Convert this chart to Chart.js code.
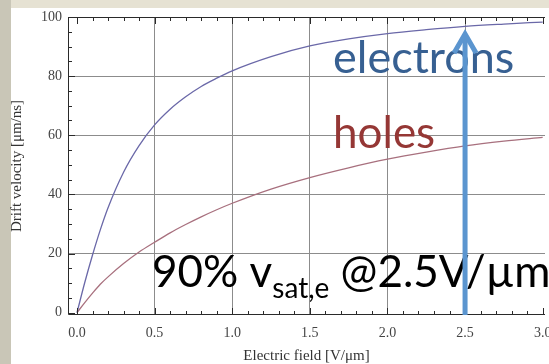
<!DOCTYPE html>
<html>
<head>
<meta charset="utf-8">
<script src="https://cdn.jsdelivr.net/npm/chart.js@4"></script>
<style>
  html, body { margin: 0; padding: 0; width: 549px; height: 364px; overflow: hidden; background: #ffffff; }
  #bandTop { position: absolute; left: 0; top: 0; width: 549px; height: 8px; background: #e6e2d3; }
  #bandLeft { position: absolute; left: 0; top: 0; width: 11px; height: 364px; background: #c9c6b7; }
  #grafico { position: absolute; left: 0; top: 0; }
</style>
</head>
<body>
<div id="bandTop"></div>
<div id="bandLeft"></div>
<canvas id="grafico" width="549" height="364"></canvas>
<script>
// campo electrico [V/um] y velocidad de deriva [um/ns]
const campo = [0, 0.05, 0.1, 0.15, 0.2, 0.3, 0.4, 0.5, 0.6, 0.7, 0.8, 0.9, 1.0, 1.25, 1.5, 1.75, 2.0, 2.25, 2.5, 2.75, 3.0];
const velElectrones = [0, 10.2, 19.5, 28, 35.5, 47.5, 56.5, 63.5, 68.8, 73, 76.5, 79.3, 81.8, 86.6, 90.2, 92.6, 94.4, 95.7, 96.8, 97.6, 98.3];
const velHuecos = [0, 3.4, 6.6, 9.6, 12.1, 16.6, 20.5, 23.8, 27, 29.8, 32.4, 34.8, 37, 41.8, 45.7, 49, 51.9, 54.3, 56.4, 58, 59.3];

const ticksX = [0, 0.5, 1.0, 1.5, 2.0, 2.5, 3.0];
const ticksY = [0, 20, 40, 60, 80, 100];

// flecha en 90% de v_sat,e
const flechaX = 2.5;
const flechaTope = 94.9;

const colorGrid = '#8c8c8c';
const colorMarco = '#2a2a2a';

function puntos(ys) {
  return campo.map((x, i) => ({ x: x, y: ys[i] }));
}

const marcoPlugin = {
  id: 'marco',
  afterDraw(chart) {
    const ctx = chart.ctx;
    const a = chart.chartArea;
    const sx = chart.scales.x;
    const sy = chart.scales.y;
    ctx.save();

    // marco (arriba, izquierda, abajo)
    ctx.strokeStyle = colorMarco;
    ctx.lineWidth = 1;
    ctx.beginPath();
    ctx.moveTo(a.right, a.top + 0.5);
    ctx.lineTo(a.left + 0.5, a.top + 0.5);
    ctx.lineTo(a.left + 0.5, a.bottom - 0.5);
    ctx.lineTo(a.right, a.bottom - 0.5);
    ctx.stroke();

    // marcas hacia adentro
    ctx.beginPath();
    for (let i = 0; i <= 30; i++) {
      const px = Math.round(sx.getPixelForValue(i / 10)) + 0.5;
      const len = i % 5 === 0 ? 7 : 4;
      ctx.moveTo(px, a.bottom);
      ctx.lineTo(px, a.bottom - len);
      ctx.moveTo(px, a.top);
      ctx.lineTo(px, a.top + len);
    }
    for (let j = 0; j <= 20; j++) {
      const py = Math.round(sy.getPixelForValue(j * 5)) + 0.5;
      const len = j % 4 === 0 ? 7 : 4;
      ctx.moveTo(a.left, py);
      ctx.lineTo(a.left + len, py);
    }
    ctx.stroke();

    // textos
    ctx.textBaseline = 'alphabetic';
    ctx.textAlign = 'left';
    ctx.font = '45px Lato';
    ctx.fillStyle = '#376092';
    ctx.fillText('electrons', 333, 73);
    ctx.font = '44px Lato';
    ctx.fillStyle = '#953735';
    ctx.fillText('holes', 333, 148);

    ctx.fillStyle = '#000000';
    ctx.font = '44px Lato';
    let x = 152;
    ctx.fillText('90% v', x, 287);
    x += ctx.measureText('90% v').width;
    ctx.font = '28px Lato';
    ctx.fillText('sat,e', x, 298);
    x += ctx.measureText('sat,e').width;
    ctx.font = '44px Lato';
    ctx.fillText(' @2.5V/\u00b5m', x, 287);

    // flecha
    const fx = sx.getPixelForValue(flechaX);
    const fy = sy.getPixelForValue(flechaTope);
    ctx.strokeStyle = '#5b95cf';
    ctx.lineWidth = 5;
    ctx.lineCap = 'butt';
    ctx.lineJoin = 'miter';
    ctx.beginPath();
    ctx.moveTo(fx, a.bottom);
    ctx.lineTo(fx, fy + 2);
    ctx.stroke();
    ctx.beginPath();
    ctx.moveTo(fx - 11, fy + 21);
    ctx.lineTo(fx, fy + 2);
    ctx.lineTo(fx + 11, fy + 21);
    ctx.stroke();

    ctx.restore();
  }
};

const ctx = document.getElementById('grafico').getContext('2d');
new Chart(ctx, {
  type: 'line',
  data: {
    datasets: [
      {
        label: 'electrons',
        data: puntos(velElectrones),
        borderColor: '#6a68a8',
        borderWidth: 1.3,
        pointRadius: 0,
        cubicInterpolationMode: 'monotone'
      },
      {
        label: 'holes',
        data: puntos(velHuecos),
        borderColor: '#a8707e',
        borderWidth: 1.3,
        pointRadius: 0,
        cubicInterpolationMode: 'monotone'
      }
    ]
  },
  options: {
    responsive: false,
    animation: false,
    devicePixelRatio: 1,
    layout: { padding: { top: 17, right: 4, left: 0, bottom: 0 } },
    plugins: { legend: { display: false }, tooltip: { enabled: false } },
    scales: {
      x: {
        type: 'linear',
        min: -0.058,
        max: 3.015,
        afterBuildTicks: s => { s.ticks = ticksX.map(v => ({ value: v })); },
        afterFit: s => { s.height = 49; s.paddingLeft = 0; s.paddingRight = 0; },
        border: { display: false },
        grid: {
          drawTicks: false,
          color: c => (c.tick && c.tick.value > 0 && c.tick.value < 3) ? colorGrid : 'rgba(0,0,0,0)',
          lineWidth: 1
        },
        ticks: {
          padding: 10,
          color: '#444',
          font: { family: 'Liberation Serif', size: 14 },
          callback: v => v.toFixed(1)
        },
        title: {
          display: true,
          text: 'Electric field [V/\u03bcm]',
          color: '#333',
          font: { family: 'Liberation Serif', size: 15, lineHeight: 1 },
          padding: { top: 0, bottom: 0 }
        }
      },
      y: {
        min: -0.8,
        max: 100,
        afterBuildTicks: s => { s.ticks = ticksY.map(v => ({ value: v })); },
        afterFit: s => { s.width = 68; s.paddingTop = 0; s.paddingBottom = 0; },
        border: { display: false },
        grid: {
          drawTicks: false,
          color: c => (c.tick && c.tick.value > 0 && c.tick.value < 100) ? colorGrid : 'rgba(0,0,0,0)',
          lineWidth: 1
        },
        ticks: {
          padding: 6,
          color: '#444',
          font: { family: 'Liberation Serif', size: 14 }
        },
        title: {
          display: true,
          text: 'Drift velocity [\u03bcm/ns]',
          color: '#333',
          font: { family: 'Liberation Serif', size: 15, lineHeight: 1 },
          padding: { top: 10, bottom: 0 }
        }
      }
    }
  },
  plugins: [marcoPlugin]
});
</script>
</body>
</html>
